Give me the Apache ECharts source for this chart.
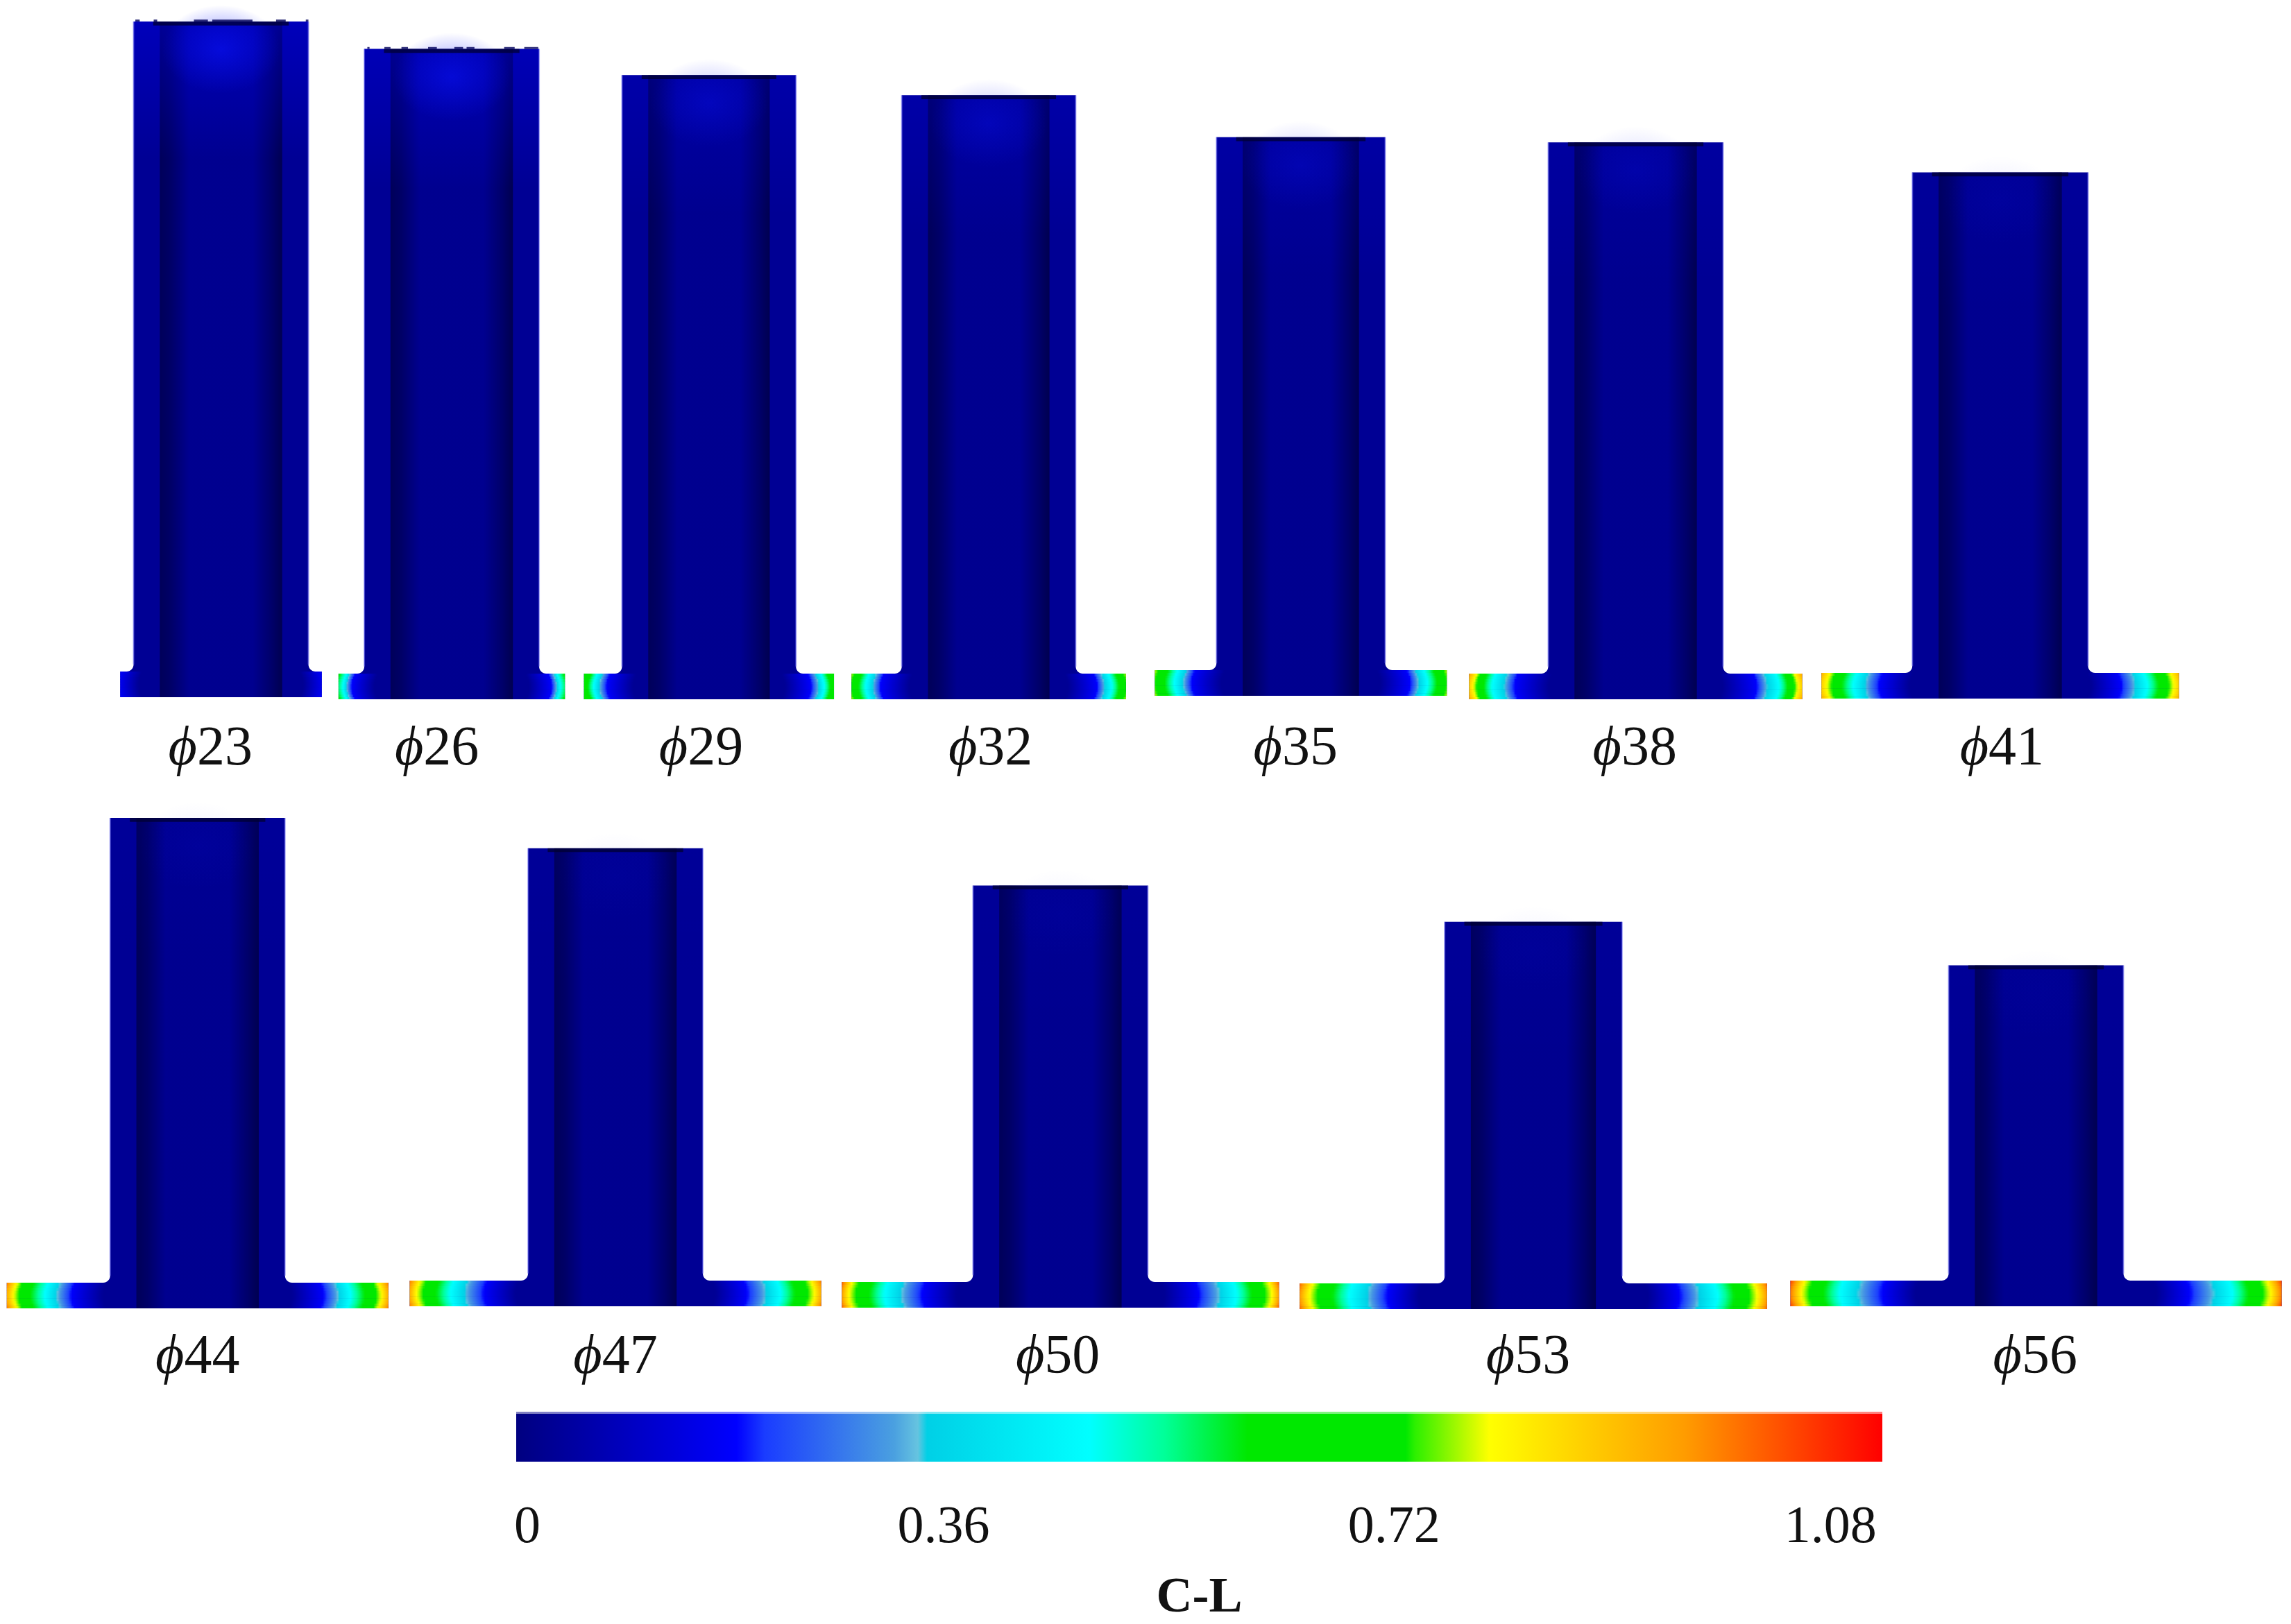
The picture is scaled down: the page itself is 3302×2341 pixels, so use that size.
<!DOCTYPE html>
<html><head><meta charset="utf-8">
<style>html,body{margin:0;padding:0;background:#fff}#c{width:3302px;height:2341px}</style>
<script src="https://cdn.jsdelivr.net/npm/echarts@6/dist/echarts.min.js"></script>
</head><body><div id="c"></div>
<script>
// ---- data (millimetres, C-L values) ----
const blankDiameters = [23, 26, 29, 32, 35, 38, 41, 44, 47, 50, 53, 56];
const cupHeights     = [77.3, 74.4, 71.4, 69.1, 63.9, 63.7, 60.2, 56.1, 52.4, 48.3, 44.3, 39.0];
const cupWidths      = [20.0, 20.0, 19.9, 19.9, 19.3, 20.0, 20.1, 20.0, 20.0, 20.0, 20.3, 20.0];
const flangeWidths   = [23.05, 25.9, 28.6, 31.4, 33.4, 38.1, 40.9, 43.65, 47.07, 50.0, 53.46, 56.2];
const rimCL          = [0.17, 0.62, 0.74, 0.78, 0.78, 0.95, 0.93, 1.00, 1.00, 1.03, 1.02, 1.06];
const contourLevels  = [0.80, 0.66, 0.47, 0.32, 0.17, 0.02];
// distance from the rim (mm) at which each contour level is reached
const contourDist = [
  [null, null, null, null, null, 2.5],
  [null, null, 0.9, 1.35, 1.9, 4.5],
  [null, 0.5, 1.5, 2.2, 3.0, 6.0],
  [null, 0.8, 2.0, 2.9, 3.7, 7.0],
  [null, 1.0, 2.6, 3.7, 4.6, 8.0],
  [0.9, 1.6, 3.0, 4.5, 5.6, 9.5],
  [1.0, 2.1, 4.0, 5.5, 7.0, 10.5],
  [1.2, 2.3, 4.7, 6.2, 7.8, 11.4],
  [1.2, 2.6, 5.0, 6.8, 8.9, 12.5],
  [1.2, 2.7, 5.2, 7.3, 9.6, 13.5],
  [1.5, 3.2, 6.0, 8.3, 10.4, 14.0],
  [1.7, 3.3, 6.0, 8.3, 10.9, 14.7]
];
// earing along the rim of the two tallest cups (mm from the left wall)
const earing = { 0: [[0.2,0.7],[2.3,2.7],[6.9,8.5],[9,13.6],[16.3,17.4],[19.7,20]],
                 1: [[0.35,0.6],[2.3,3],[4.25,5],[7.3,8.3],[10.3,11.3],[11.7,12.6],[16,17.2],[18.3,19.9]] };
const colorScaleValues = [-0.0092,0.1734,0.1966,0.304,0.3236,0.3313,0.4659,0.5277,0.5969,0.728,0.7356,0.7974,0.959,1.123];
const colorScaleColors = ['#000080','#0000ff','#1a3cff','#4aa0e0','#66c4e0','#00d0e6','#00ffff','#00ff99','#00e800','#00e800','#2cf000','#ffff00','#ff9c00','#ff0000'];
const barTicks = [0, 0.36, 0.72, 1.08];
const barTitle = 'C-L';

// ---- layout (not data) ----
const pxPerMm = 12.6;
const W = 3302, H = 2341;
const slotX   = [25.28, 51.67, 81.1, 113.1, 148.8, 187.1, 228.8, 22.6, 70.4, 121.3, 175.4, 232.9];
const slotY   = [0.4, 0.16, 0.16, 0.16, 0.56, 0.16, 0.24, 0.32, 0.56, 0.4, 0.24, 0.56];
const labelX  = [24.07, 49.97, 80.2, 113.3, 148.2, 187.0, 229.0, 22.6, 70.4, 121.0, 174.8, 232.8];
const glow    = [1, 0.9, 0.55, 0.5, 0.4, 0.3, 0.15, 0.12, 0.1, 0.1, 0.1, 0.08];
const thick = 2.94, wall = 3.0, fillet = 0.8, bulge = 0.4;
const serif = '"Liberation Serif", serif';
const fontPx = 76, specimenFontPx = 80;
const tickNudge = { 0.36: 52, 0.72: 6 };

function hex(c){return [1,3,5].map(i=>parseInt(c.substr(i,2),16));}
function colorOf(v){
  const V=colorScaleValues,C=colorScaleColors;
  if(v<=V[0])return C[0];
  for(let i=1;i<V.length;i++){ if(v<=V[i]){
    const t=(v-V[i-1])/(V[i]-V[i-1]),a=hex(C[i-1]),b=hex(C[i]);
    return 'rgb('+a.map((x,k)=>Math.round(x+(b[k]-x)*t)).join(',')+')';
  }}
  return C[C.length-1];
}
function profile(i,d){
  const pts=[[0,rimCL[i]]];
  contourDist[i].forEach((x,k)=>{ if(x!==null) pts.push([x,contourLevels[k]]); });
  for(let k=1;k<pts.length;k++){ if(d<=pts[k][0]){
    const t=(d-pts[k-1][0])/(pts[k][0]-pts[k-1][0]);
    return pts[k-1][1]+(pts[k][1]-pts[k-1][1])*t;
  }}
  return pts[pts.length-1][1];
}
const wallCL = contourLevels[contourLevels.length-1];

function renderCup(params, api){
  const i = api.value(0);
  const c = slotX[i], base = slotY[i], ch = cupHeights[i], a = cupWidths[i]/2, b = flangeWidths[i]/2;
  const P=(x,y)=>api.coord([c+x, base+y]);
  const kids=[];
  // silhouette with fillets
  const pts=[P(-b,0),P(-b,thick)];
  const N=8;
  for(let k=0;k<=N;k++){const th=k/N*Math.PI/2; pts.push(P(-a-fillet+fillet*Math.sin(th), thick+fillet-fillet*Math.cos(th)));}
  pts.push(P(-a,ch),P(a,ch));
  for(let k=N;k>=0;k--){const th=k/N*Math.PI/2; pts.push(P(a+fillet-fillet*Math.sin(th), thick+fillet-fillet*Math.cos(th)));}
  pts.push(P(b,thick),P(b,0));
  kids.push({type:'polygon',shape:{points:pts},style:{fill:colorOf(wallCL)}});
  // flange contour slices
  const S=10, n=180;
  for(let s=0;s<S;s++){
    const u=(s+0.5)/S, off=bulge*(1-Math.pow(2*u-1,2));
    const stops=[];
    for(let k=0;k<=n;k++){
      const x=k/n*2*b, d=Math.min(x,2*b-x);
      stops.push({offset:k/n,color:colorOf(profile(i,d+off))});
    }
    const p0=P(-b,thick*(s+1)/S), p1=P(b,thick*s/S);
    kids.push({type:'rect',shape:{x:p0[0],y:p0[1],width:p1[0]-p0[0],height:p1[1]-p0[1]+(s?0.6:0)},
      style:{fill:{type:'linear',x:0,y:0,x2:1,y2:0,colorStops:stops}}});
  }
  // shaded inner band of the section
  const q0=P(-a+wall,ch), q1=P(a-wall,0);
  kids.push({type:'rect',shape:{x:q0[0],y:q0[1],width:q1[0]-q0[0],height:q1[1]-q0[1]},
    style:{fill:{type:'linear',x:0,y:0,x2:1,y2:0,colorStops:[
      {offset:0,color:'rgba(0,0,0,0.40)'},{offset:0.09,color:'rgba(0,0,0,0.30)'},{offset:0.24,color:'rgba(0,0,0,0.03)'},
      {offset:0.76,color:'rgba(0,0,0,0.03)'},{offset:0.91,color:'rgba(0,0,0,0.28)'},{offset:1,color:'rgba(0,0,0,0.46)'}]}}});
  // brighter zone near the rim
  const g=glow[i];
  const t0=P(-a,ch), t1=P(a,ch-16);
  kids.push({type:'rect',shape:{x:t0[0],y:t0[1],width:t1[0]-t0[0],height:t1[1]-t0[1]},
    style:{fill:{type:'linear',x:0,y:0,x2:0,y2:1,colorStops:[
      {offset:0,color:'rgba(0,0,255,'+(0.36*g)+')'},{offset:1,color:'rgba(0,0,255,0)'}]}}});
  const gc=P(0,ch-3.2);
  kids.push({type:'circle',shape:{cx:gc[0],cy:gc[1],r:85},scaleY:0.75,originX:gc[0],originY:gc[1],
    style:{fill:{type:'radial',x:0.5,y:0.5,r:0.5,colorStops:[
      {offset:0,color:'rgba(10,20,255,'+(0.55*g)+')'},{offset:1,color:'rgba(10,20,255,0)'}]}}});
  // dark rim edge
  const e0=P(-a+wall*0.75,ch), e1=P(a-wall*0.75,ch-0.45);
  kids.push({type:'rect',shape:{x:e0[0],y:e0[1],width:e1[0]-e0[0],height:e1[1]-e0[1]},style:{fill:'rgba(0,0,50,0.75)'}});
  (earing[i]||[]).forEach(r=>{
    const p=P(-a+r[0],ch+0.22), q=P(-a+r[1],ch);
    kids.push({type:'rect',shape:{x:p[0],y:p[1],width:q[0]-p[0],height:q[1]-p[1]},style:{fill:'rgba(0,0,90,0.8)'}});
  });
  // soft pale edge on the cup sides
  [-a,a].forEach(x=>{
    const p=P(x,thick+fillet), q=P(x,ch);
    kids.push({type:'line',shape:{x1:p[0],y1:p[1],x2:q[0],y2:q[1]},style:{stroke:'rgba(110,110,240,0.55)',lineWidth:2}});
  });
  // specimen label
  const lab=api.coord([labelX[i], api.value(1)]);
  kids.push({type:'text',x:lab[0],y:lab[1],style:{
    text:'{p|\u03D5}'+blankDiameters[i],align:'center',verticalAlign:'middle',
    font:specimenFontPx+'px '+serif,fill:'#111',
    rich:{p:{fontStyle:'italic',fontSize:specimenFontPx,fontFamily:'Liberation Serif',fill:'#111'}}}});
  return {type:'group',children:kids};
}

function renderBar(params, api){
  const p0=api.coord([api.value(0),1]), p1=api.coord([api.value(1),0]);
  const lo=colorScaleValues[0], hi=colorScaleValues[colorScaleValues.length-1];
  return {type:'group',children:[
    {type:'rect',shape:{x:p0[0],y:p0[1],width:p1[0]-p0[0],height:p1[1]-p0[1]},
     style:{fill:{type:'linear',x:0,y:0,x2:1,y2:0,colorStops:colorScaleValues.map((v,k)=>({offset:(v-lo)/(hi-lo),color:colorScaleColors[k]}))}}},
    {type:'rect',shape:{x:p0[0],y:p0[1],width:p1[0]-p0[0],height:3},style:{fill:'rgba(255,255,255,0.5)'}}
  ]};
}

const row1=[0,1,2,3,4,5,6], row2=[7,8,9,10,11];
const chart=echarts.init(document.getElementById('c'),null,{width:W,height:H,renderer:'canvas'});
const hidden={show:false};
chart.setOption({
  animation:false,
  backgroundColor:'#ffffff',
  grid:[
    {left:0,top:0,width:W,height:1010},
    {left:0,top:1100,width:W,height:790},
    {left:744,top:2035,width:1969,height:72}
  ],
  xAxis:[
    {type:'value',gridIndex:0,min:0,max:W/pxPerMm,...hidden},
    {type:'value',gridIndex:1,min:0,max:W/pxPerMm,...hidden},
    {type:'value',gridIndex:2,min:colorScaleValues[0],max:colorScaleValues[colorScaleValues.length-1],
     axisLine:{show:false},axisTick:{show:false},splitLine:{show:false},
     name:barTitle,nameLocation:'middle',nameGap:161,nameMoveOverlap:false,
     nameTextStyle:{fontFamily:'Liberation Serif',fontWeight:'bold',fontSize:72,color:'#111'},
     axisLabel:{customValues:barTicks,margin:58,color:'#111',fontFamily:'Liberation Serif',fontSize:fontPx,
       hideOverlap:false,
       formatter:v=>'{a'+(tickNudge[v]?String(tickNudge[v]):'')+'|'+v+'}',
       rich:Object.assign({a:{fontFamily:'Liberation Serif',fontSize:fontPx,color:'#111'}},
         ...Object.keys(tickNudge).map(k=>({['a'+tickNudge[k]]:{fontFamily:'Liberation Serif',fontSize:fontPx,color:'#111',padding:[0,tickNudge[k],0,0]}})))}}
  ],
  yAxis:[
    {type:'value',gridIndex:0,min:0,max:1010/pxPerMm,...hidden},
    {type:'value',gridIndex:1,min:0,max:790/pxPerMm,...hidden},
    {type:'value',gridIndex:2,min:0,max:1,...hidden}
  ],
  series:[
    {type:'custom',xAxisIndex:0,yAxisIndex:0,clip:false,silent:true,renderItem:renderCup,
     data:row1.map(i=>[i,-5.65]),encode:{x:[],y:[]}},
    {type:'custom',xAxisIndex:1,yAxisIndex:1,clip:false,silent:true,renderItem:renderCup,
     data:row2.map(i=>[i,-5.4]),encode:{x:[],y:[]}},
    {type:'custom',xAxisIndex:2,yAxisIndex:2,clip:false,silent:true,renderItem:renderBar,
     data:[[colorScaleValues[0],colorScaleValues[colorScaleValues.length-1]]],encode:{x:[0,1]}}
  ]
});
</script></body></html>
